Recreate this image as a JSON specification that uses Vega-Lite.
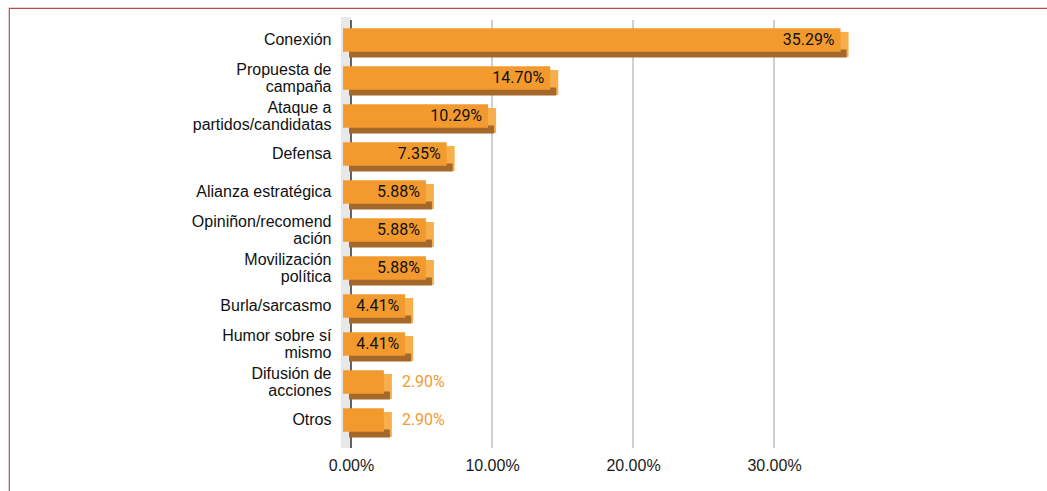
{
  "$schema": "https://vega.github.io/schema/vega-lite/v6.json",
  "width": 1050,
  "height": 495,
  "autosize": {"type": "none"},
  "padding": {"left": 9, "top": 8, "right": -12, "bottom": -12},
  "background": "white",
  "config": {
    "view": {"stroke": "#BE4A4E", "strokeWidth": 1.2},
    "axis": {"grid": false, "domain": false, "ticks": false}
  },
  "datasets": {
    "main": [
      {"categoria": "Conexión", "valor": 0.3529},
      {"categoria": "Propuesta de\ncampaña", "valor": 0.147},
      {"categoria": "Ataque a\npartidos/candidatas", "valor": 0.1029},
      {"categoria": "Defensa", "valor": 0.0735},
      {"categoria": "Alianza estratégica", "valor": 0.0588},
      {"categoria": "Opiniñon/recomend\nación", "valor": 0.0588},
      {"categoria": "Movilización\npolítica", "valor": 0.0588},
      {"categoria": "Burla/sarcasmo", "valor": 0.0441},
      {"categoria": "Humor sobre sí\nmismo", "valor": 0.0441},
      {"categoria": "Difusión de\nacciones", "valor": 0.029},
      {"categoria": "Otros", "valor": 0.029}
    ],
    "grid": [
      {"t": 0, "desde": "Conexión", "hasta": "Otros"},
      {"t": 0.1, "desde": "Conexión", "hasta": "Otros"},
      {"t": 0.2, "desde": "Conexión", "hasta": "Otros"},
      {"t": 0.3, "desde": "Conexión", "hasta": "Otros"}
    ]
  },
  "data": {"name": "main"},
  "encoding": {
    "y": {"field": "categoria", "type": "nominal", "title": null,
      "scale": {"domain": ["Conexión", "Propuesta de\ncampaña", "Ataque a\npartidos/candidatas", "Defensa", "Alianza estratégica", "Opiniñon/recomend\nación", "Movilización\npolítica", "Burla/sarcasmo", "Humor sobre sí\nmismo", "Difusión de\nacciones", "Otros"],
        "range": [13, 431], "paddingInner": 0, "paddingOuter": 0},
      "axis": {"offset": -342, "labelPadding": 20, "labelFont": "Liberation Sans", "labelFontSize": 16, "labelColor": "#111111",
        "labelLimit": 0, "labelLineHeight": 16.5, "labelExpr": "split(datum.value, '\\n')",
        "labelOffset": {"condition": {"test": "indexof(datum.value, '\\n') >= 0", "value": -8}, "value": 0}}},
    "x": {"field": "valor", "type": "quantitative", "title": null,
      "scale": {"domain": [0, 0.36], "range": [342, 849.6], "nice": false, "zero": true},
      "axis": {"offset": -55, "values": [0, 0.1, 0.2, 0.3], "format": ".2%", "labelFlush": false, "labelPadding": 9,
        "labelFont": "Liberation Sans", "labelFontSize": 16, "labelColor": "#1a1a1a"}}
  },
  "layer": [
    {
      "data": {"name": "grid"},
      "transform": [{"filter": "datum.t == 0"}],
      "mark": {"type": "rule", "color": "#E8E8E8", "strokeWidth": 10, "xOffset": -5, "yOffset": -23, "y2Offset": 28},
      "encoding": {
        "x": {"field": "t", "type": "quantitative"},
        "y": {"field": "desde", "type": "nominal"},
        "y2": {"field": "hasta"}
      }
    },
    {
      "data": {"name": "grid"},
      "transform": [{"filter": "datum.t > 0"}],
      "mark": {"type": "rule", "color": "#CFCFCF", "strokeWidth": 2, "yOffset": -20, "y2Offset": 28},
      "encoding": {
        "x": {"field": "t", "type": "quantitative"},
        "y": {"field": "desde", "type": "nominal"},
        "y2": {"field": "hasta"}
      }
    },
    {
      "data": {"name": "grid"},
      "transform": [{"filter": "datum.t == 0"}],
      "mark": {"type": "rule", "color": "#333333", "strokeWidth": 1.5, "yOffset": -20, "y2Offset": 28},
      "encoding": {
        "x": {"field": "t", "type": "quantitative"},
        "y": {"field": "desde", "type": "nominal"},
        "y2": {"field": "hasta"}
      }
    },
    {
      "mark": {"type": "bar", "color": "#F9AE4C", "height": 25, "yOffset": 4.5, "xOffset": 0, "x2Offset": -8}
    },
    {
      "mark": {"type": "bar", "color": "#A5682B", "height": 8, "yOffset": 13.5, "xOffset": -2, "x2Offset": -8}
    },
    {
      "mark": {"type": "bar", "color": "#F39A2E", "height": 23.5, "yOffset": 0, "xOffset": -8, "x2Offset": -8}
    },
    {
      "transform": [{"filter": "datum.valor > 0.03"}],
      "mark": {"type": "text", "align": "right", "baseline": "middle", "dx": -14, "font": "Roboto", "fontSize": 16, "color": "#111111"},
      "encoding": {
        "text": {"field": "valor", "format": ".2%"}
      }
    },
    {
      "transform": [{"filter": "datum.valor <= 0.03"}],
      "mark": {"type": "text", "align": "left", "baseline": "middle", "dx": 10, "font": "Roboto", "fontSize": 16, "color": "#F39A2E"},
      "encoding": {
        "text": {"field": "valor", "format": ".2%"}
      }
    }
  ]
}
